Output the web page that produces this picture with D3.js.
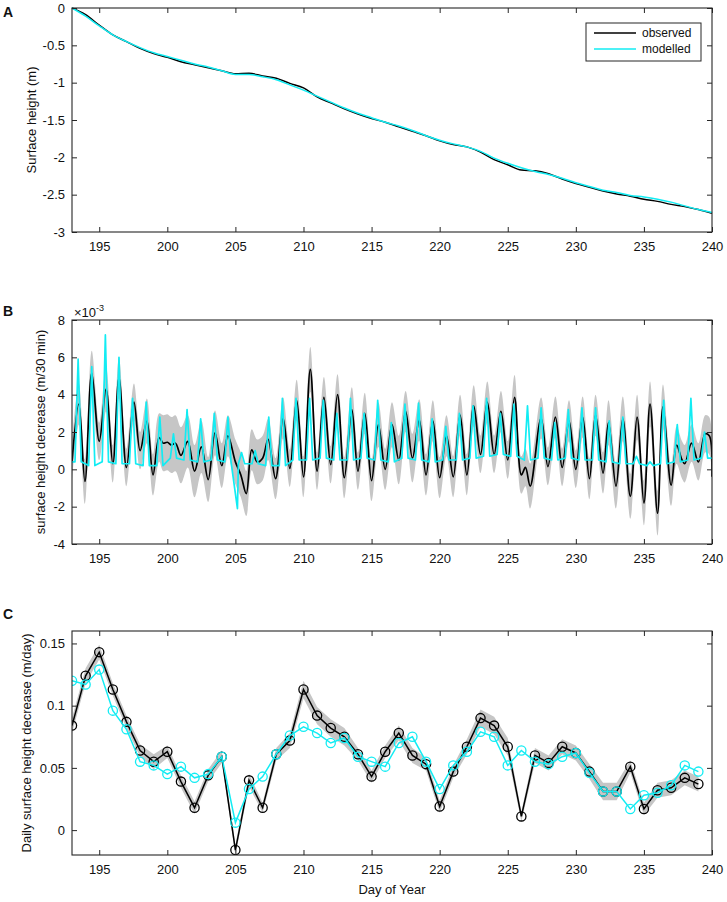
<!DOCTYPE html>
<html><head><meta charset="utf-8">
<script src="https://cdn.jsdelivr.net/npm/d3@7"></script>
<style>body{margin:0;background:#fff}svg{font-family:"Liberation Sans",Arial,Helvetica,sans-serif}</style>
</head><body>
<script>
// ---------- DATA ----------
const xTicks = [195,200,205,210,215,220,225,230,235,240];
const xTickLabels = ["195","200","205","210","215","220","225","230","235","240"];

// Panel A: surface height (m), daily
const daysA = d3.range(193, 241);
const obsA = [0,-0.09,-0.23,-0.36,-0.45,-0.54,-0.61,-0.66,-0.72,-0.76,-0.80,-0.84,-0.88,-0.875,-0.91,-0.94,-1.01,-1.07,-1.19,-1.27,-1.35,-1.42,-1.48,-1.53,-1.59,-1.65,-1.71,-1.78,-1.83,-1.86,-1.93,-2.03,-2.10,-2.17,-2.18,-2.22,-2.29,-2.35,-2.40,-2.45,-2.49,-2.52,-2.56,-2.59,-2.63,-2.66,-2.70,-2.75];
const modA = [0,-0.11,-0.24,-0.36,-0.45,-0.53,-0.60,-0.65,-0.70,-0.75,-0.79,-0.84,-0.89,-0.89,-0.92,-0.96,-1.03,-1.10,-1.18,-1.26,-1.34,-1.41,-1.47,-1.53,-1.58,-1.64,-1.71,-1.77,-1.82,-1.86,-1.92,-2.01,-2.08,-2.14,-2.19,-2.23,-2.28,-2.34,-2.39,-2.44,-2.47,-2.51,-2.53,-2.56,-2.60,-2.65,-2.70,-2.74];
const aTicks = [0,-0.5,-1,-1.5,-2,-2.5,-3];
const aTickLabels = ["0","-0.5","-1","-1.5","-2","-2.5","-3"];

// Panel B: surface height decrease (x10^-3 m / 30 min): [day, value, band half-width]
const obsB = [
[193.0,0.4,1.0],[193.5,3.5,1.1],[193.95,-0.65,1.2],[194.45,5.15,1.2],[195.0,1.5,1.0],[195.5,4.3,1.2],
[196.0,0.3,1.0],[196.45,4.9,1.1],[197.0,0.1,1.0],[197.55,3.6,1.0],[198.0,1.0,1.0],[198.5,2.6,1.2],
[198.95,-0.3,1.1],[199.4,1.7,1.3],[199.7,1.4,1.5],[200.0,1.45,1.5],[200.3,1.3,1.5],[200.6,1.4,1.5],
[201.0,0.75,1.5],[201.5,1.5,1.4],[202.0,-0.1,1.4],[202.5,1.2,1.4],[203.0,-0.55,1.2],[203.5,1.95,1.2],
[204.0,0.2,1.2],[204.45,1.8,1.1],[205.0,0.4,1.2],[205.4,-0.3,1.2],[205.8,-1.3,1.2],[206.2,1.05,1.1],
[206.6,0.4,1.2],[207.0,0.6,1.2],[207.4,1.6,1.1],[207.95,-0.5,1.1],[208.5,2.75,1.1],[209.0,0.05,1.0],
[209.5,3.7,1.1],[210.0,-0.4,1.1],[210.5,5.35,1.2],[211.0,-0.1,1.0],[211.5,3.85,1.1],[212.0,0.25,1.0],
[212.5,4.0,1.1],[213.0,-0.45,1.1],[213.55,3.2,1.2],[214.0,-0.1,1.0],[214.5,3.0,1.1],[215.0,-0.6,1.1],
[215.5,2.4,1.2],[216.0,0.0,1.1],[216.5,2.4,1.2],[217.0,0.5,1.3],[217.5,3.1,1.1],[218.0,0.6,1.3],
[218.5,2.65,1.1],[219.0,-0.3,1.1],[219.5,2.6,1.1],[220.0,-0.45,1.1],[220.5,1.8,1.1],[221.0,-0.4,1.1],
[221.5,2.9,1.1],[222.0,-0.3,1.1],[222.5,3.4,1.1],[223.0,0.8,1.0],[223.5,3.6,1.1],[224.0,0.8,1.0],
[224.5,3.1,1.1],[225.0,0.5,1.0],[225.5,3.85,1.2],[226.0,-0.3,1.0],[226.3,0.1,1.0],[226.65,-0.9,1.2],
[227.45,2.75,1.1],[227.95,0.15,1.0],[228.5,2.8,1.1],[229.0,0.1,1.0],[229.5,2.6,1.1],[230.0,0.0,1.0],
[230.5,2.8,1.1],[231.0,-0.5,1.1],[231.45,2.9,1.1],[232.0,-0.2,1.1],[232.4,2.5,1.2],[232.95,-0.9,1.2],
[233.45,2.7,1.2],[234.0,-1.45,1.2],[234.5,2.8,1.2],[235.0,-1.8,1.2],[235.45,3.5,1.2],[236.0,-2.35,1.2],
[236.4,3.35,1.2],[237.0,-0.85,1.1],[237.4,1.3,1.0],[237.8,0.5,1.0],[238.0,0.3,1.0],[238.5,1.4,1.0],
[239.0,0.4,1.0],[239.5,1.9,1.0],[239.8,1.8,1.0],[240.0,-0.4,1.1]
];
const daysB = d3.range(193, 240);
const modPeakB = [5.9,5.5,7.2,6.0,3.8,3.6,2.8,1.9,3.2,2.7,3.0,2.8,0.9,1.0,2.8,3.8,3.8,3.8,3.7,3.0,3.8,3.0,3.7,2.5,3.5,3.55,2.7,2.3,3.0,3.4,3.8,3.0,3.5,3.4,3.3,2.5,3.2,3.3,3.3,2.6,2.8,0.7,0.4,3.7,2.4,3.8,2.0];
const modBaseB = [0.4,0.2,0.4,0.3,0.3,0.2,0.2,0.6,0.5,0.4,0.5,0.4,0.3,0.3,0.2,0.2,0.5,0.5,0.6,0.5,0.5,0.6,0.5,0.4,0.6,0.5,0.4,0.5,0.5,0.6,0.7,0.8,0.7,0.5,0.6,0.5,0.6,0.5,0.5,0.4,0.3,0.3,0.2,0.3,0.4,0.5,0.6];
const modExtraB = [[205.15,-2.1],[205.3,0.5]];
const bTicks = [-4,-2,0,2,4,6,8];
const bTickLabels = ["-4","-2","0","2","4","6","8"];

// Panel C: daily surface height decrease (m/day)
const daysC = d3.range(193, 240);
const obsC = [0.084,0.124,0.143,0.113,0.087,0.064,0.055,0.063,0.039,0.018,0.044,0.059,-0.016,0.040,0.018,0.061,0.072,0.113,0.092,0.082,0.075,0.061,0.043,0.063,0.078,0.060,0.053,0.019,0.047,0.067,0.090,0.084,0.067,0.011,0.060,0.054,0.067,0.062,0.047,0.031,0.031,0.051,0.017,0.032,0.034,0.042,0.037];
const modC = [0.120,0.117,0.129,0.096,0.081,0.055,0.052,0.045,0.051,0.042,0.045,0.059,0.006,0.033,0.043,0.061,0.076,0.083,0.078,0.070,0.074,0.059,0.055,0.051,0.070,0.075,0.055,0.033,0.052,0.063,0.079,0.075,0.052,0.064,0.055,0.053,0.059,0.062,0.046,0.031,0.031,0.017,0.028,0.030,0.036,0.052,0.047];
const errC = [0.006,0.006,0.006,0.005,0.005,0.005,0.006,0.005,0.005,0.005,0.005,0.005,0.004,0.005,0.004,0.005,0.006,0.007,0.007,0.007,0.007,0.005,0.005,0.005,0.006,0.006,0.005,0.005,0.005,0.006,0.007,0.007,0.007,0.004,0.006,0.006,0.006,0.006,0.006,0.007,0.007,0.005,0.005,0.006,0.006,0.006,0.006];
const cTicks = [0,0.05,0.1,0.15];
const cTickLabels = ["0","0.05","0.1","0.15"];

// ---------- DRAW ----------
const W = 727, H = 902, L = 72, R = 712;
const AX = "#262626", CYAN = "#12ecf3", GRAY = "#c6c6c6";
const svg = d3.select("body").append("svg").attr("width", W).attr("height", H);
const x = (top) => d3.scaleLinear().domain([193, 240]).range([L, R]);

function frame(top, bottom, y, yT, yL, title, titleX, letter, letterY) {
  const xs = d3.scaleLinear().domain([193, 240]).range([L, R]);
  const g = svg.append("g");
  const fmtX = (d) => xTickLabels[xTicks.indexOf(d)];
  const fmtY = (d) => yL[yT.indexOf(d)];
  const ax = [
    g.append("g").attr("transform", `translate(0,${bottom})`).call(d3.axisBottom(xs).tickValues(xTicks).tickFormat(fmtX).tickSizeInner(-5).tickSizeOuter(0).tickPadding(10)),
    g.append("g").attr("transform", `translate(0,${top})`).call(d3.axisTop(xs).tickValues(xTicks).tickFormat("").tickSizeInner(-5).tickSizeOuter(0)),
    g.append("g").attr("transform", `translate(${L},0)`).call(d3.axisLeft(y).tickValues(yT).tickFormat(fmtY).tickSizeInner(-5).tickSizeOuter(0).tickPadding(7)),
    g.append("g").attr("transform", `translate(${R},0)`).call(d3.axisRight(y).tickValues(yT).tickFormat("").tickSizeInner(-5).tickSizeOuter(0))
  ];
  ax.forEach(a => {
    a.selectAll("path.domain").remove();
    a.selectAll("line").attr("stroke", AX).attr("stroke-width", 1);
    a.selectAll("text").attr("fill", "#111").style("font-size", "13px").style("font-family", '"Liberation Sans",Arial,sans-serif');
  });
  g.append("rect").attr("x", L).attr("y", top).attr("width", R - L).attr("height", bottom - top)
    .attr("fill", "none").attr("stroke", AX).attr("stroke-width", 1.1);
  svg.append("text").attr("transform", `translate(${titleX},${(top + bottom) / 2}) rotate(-90)`)
    .attr("text-anchor", "middle").style("font-size", "13px").attr("fill", "#111").text(title);
  svg.append("text").attr("x", 3).attr("y", letterY).style("font-size", "14px").style("font-weight", "bold").attr("fill", "#111").text(letter);
  return xs;
}

// Panel A
const yA = d3.scaleLinear().domain([-3, 0]).range([232, 8]);
const clipA = svg.append("clipPath").attr("id", "cA").append("rect").attr("x", L).attr("y", 8).attr("width", R - L).attr("height", 224);
const xA = d3.scaleLinear().domain([193, 240]).range([L, R]);
const lineA = d3.line().x((d, i) => xA(daysA[i])).y(d => yA(d)).curve(d3.curveMonotoneX);
svg.append("path").attr("d", lineA(obsA)).attr("fill", "none").attr("stroke", "#000").attr("stroke-width", 1.5);
svg.append("path").attr("d", lineA(modA)).attr("fill", "none").attr("stroke", CYAN).attr("stroke-width", 1.5);
frame(8, 232, yA, aTicks, aTickLabels, "Surface height (m)", 36, "A", 17);
// legend
const lg = svg.append("g");
lg.append("rect").attr("x", 586).attr("y", 23).attr("width", 115).attr("height", 38).attr("fill", "#fff").attr("stroke", AX).attr("stroke-width", 1);
[["observed", "#000", 33], ["modelled", CYAN, 49]].forEach(([t, c, yy]) => {
  lg.append("line").attr("x1", 594).attr("x2", 636).attr("y1", yy).attr("y2", yy).attr("stroke", c).attr("stroke-width", 1.6);
  lg.append("text").attr("x", 642).attr("y", yy + 4).style("font-size", "12px").attr("fill", "#111").text(t);
});

// Panel B
const yB = d3.scaleLinear().domain([-4, 8]).range([544, 320]);
const xB = d3.scaleLinear().domain([193, 240]).range([L, R]);
svg.append("clipPath").attr("id", "cB").append("rect").attr("x", L).attr("y", 320).attr("width", R - L).attr("height", 224);
const gB = svg.append("g").attr("clip-path", "url(#cB)");
gB.append("path").attr("d", d3.area().x(d => xB(d[0])).y0(d => yB(d[1] - d[2])).y1(d => yB(d[1] + d[2])).curve(d3.curveCatmullRom)(obsB))
  .attr("fill", GRAY).attr("stroke", "none");
gB.append("path").attr("d", d3.line().x(d => xB(d[0])).y(d => yB(d[1])).curve(d3.curveCatmullRom)(obsB))
  .attr("fill", "none").attr("stroke", "#000").attr("stroke-width", 1.7);
const modPts = [];
daysB.forEach((d, i) => {
  modPts.push([d + 0.22, modBaseB[i]]);
  modPts.push([d + 0.45, modPeakB[i]]);
  modPts.push([d + 0.68, modBaseB[i]]);
});
modPts.push([240, modBaseB[modBaseB.length - 1]]);
modPts.unshift([193, modBaseB[0]]);
modExtraB.forEach(p => modPts.push(p));
modPts.sort((a, b) => a[0] - b[0]);
gB.append("path").attr("d", d3.line().x(d => xB(d[0])).y(d => yB(d[1]))(modPts))
  .attr("fill", "none").attr("stroke", CYAN).attr("stroke-width", 1.7).attr("stroke-linejoin", "round");
frame(320, 544, yB, bTicks, bTickLabels, "surface height decrease (m/30 min)", 45, "B", 316);
const ex = svg.append("text").attr("x", 74).attr("y", 317).style("font-size", "13px").attr("fill", "#111");
ex.append("tspan").text("\u00d710");
ex.append("tspan").attr("dy", -6).style("font-size", "9px").text("-3");

// Panel C
const yC = d3.scaleLinear().domain([-0.02, 0.16]).range([855, 631]);
const xC = d3.scaleLinear().domain([193, 240]).range([L, R]);
svg.append("clipPath").attr("id", "cC").append("rect").attr("x", L).attr("y", 631).attr("width", R - L).attr("height", 224);
const gC = svg.append("g").attr("clip-path", "url(#cC)");
gC.append("path").attr("d", d3.area().x((d, i) => xC(daysC[i])).y0((d, i) => yC(d - errC[i])).y1((d, i) => yC(d + errC[i]))(obsC))
  .attr("fill", GRAY).attr("stroke", "none");
gC.append("path").attr("d", d3.line().x((d, i) => xC(daysC[i])).y(d => yC(d))(obsC))
  .attr("fill", "none").attr("stroke", "#000").attr("stroke-width", 1.5);
gC.selectAll("circle.o").data(obsC).join("circle").attr("class", "o")
  .attr("cx", (d, i) => xC(daysC[i])).attr("cy", d => yC(d)).attr("r", 4.6)
  .attr("fill", "none").attr("stroke", "#000").attr("stroke-width", 1.3);
gC.append("path").attr("d", d3.line().x((d, i) => xC(daysC[i])).y(d => yC(d))(modC))
  .attr("fill", "none").attr("stroke", CYAN).attr("stroke-width", 1.5);
gC.selectAll("circle.m").data(modC).join("circle").attr("class", "m")
  .attr("cx", (d, i) => xC(daysC[i])).attr("cy", d => yC(d)).attr("r", 4.6)
  .attr("fill", "none").attr("stroke", CYAN).attr("stroke-width", 1.3);
frame(631, 855, yC, cTicks, cTickLabels, "Daily surface height decrease (m/day)", 31, "C", 619);
svg.append("text").attr("x", (L + R) / 2).attr("y", 894).attr("text-anchor", "middle").style("font-size", "13px").attr("fill", "#111").text("Day of Year");
</script>
</body></html>
